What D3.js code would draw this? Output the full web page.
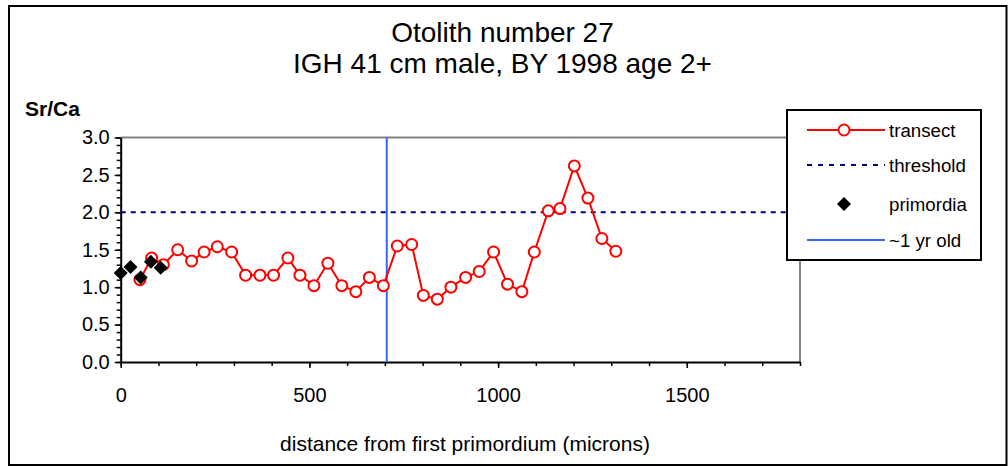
<!DOCTYPE html>
<html>
<head>
<meta charset="utf-8">
<script src="https://cdn.jsdelivr.net/npm/d3@7"></script>
<style>
  body { margin: 0; background: #fff; }
  svg { display: block; font-family: "Liberation Sans", Arial, sans-serif; }
</style>
</head>
<body>
<svg id="chart" width="1008" height="466"></svg>
<script>
// transect points (distance in microns, Sr/Ca)
const transectX = [51, 82, 113, 151, 188, 221, 256, 294, 331, 369, 405, 443, 475, 512, 549, 586, 623, 659,
  696, 733, 771, 802, 839, 875, 914, 950, 988, 1025, 1063, 1096, 1133, 1164, 1202, 1238, 1275, 1312];
const transectY = [1.10, 1.39, 1.30, 1.50, 1.35, 1.47, 1.54, 1.47, 1.16, 1.16, 1.16, 1.39, 1.16, 1.02, 1.32, 1.02, 0.94, 1.13,
  1.02, 1.55, 1.57, 0.89, 0.84, 1.00, 1.13, 1.21, 1.47, 1.04, 0.94, 1.47, 2.02, 2.05, 2.62, 2.19, 1.65, 1.48];

// primordia points
const primX = [0, 26, 53, 80, 106];
const primY = [1.19, 1.27, 1.13, 1.34, 1.26];

const threshold = 2.0;
const yearLineX = 705;

const titleLines = ["Otolith number 27", "IGH 41 cm male, BY 1998 age 2+"];
const xLabel = "distance from first primordium (microns)";
const yLabel = "Sr/Ca";
const xTicks = [0, 500, 1000, 1500];
const yTicks = [0, 0.5, 1.0, 1.5, 2.0, 2.5, 3.0];
const legendLabels = ["transect", "threshold", "primordia", "~1 yr old"];

const RED = "#ff0000", NAVY = "#000080", BLUE = "#3366ff";

const svg = d3.select("#chart");

// outer chart border
svg.append("rect")
  .attr("x", 9).attr("y", 6)
  .attr("width", 997.5).attr("height", 459)
  .attr("fill", "#fff")
  .attr("stroke", "#000").attr("stroke-width", 2);

const plotLeft = 120.7, plotRight = 800, plotTop = 137.5, plotBottom = 362;

const x = d3.scaleLinear().domain([0, 1800]).range([plotLeft, plotRight]);
const y = d3.scaleLinear().domain([0, 3]).range([plotBottom, plotTop]);

// titles
svg.selectAll(".title")
  .data(titleLines)
  .enter().append("text")
  .attr("x", 502.5)
  .attr("y", (d, i) => 42.3 + i * 31)
  .attr("text-anchor", "middle")
  .attr("font-size", 28)
  .text(d => d);

// plot frame (top and right in grey)
svg.append("path")
  .attr("d", `M${plotLeft},${plotTop}H${plotRight}V${plotBottom}`)
  .attr("fill", "none")
  .attr("stroke", "#808080").attr("stroke-width", 2);

// minor ticks
const yMinor = svg.append("g")
  .attr("transform", `translate(${plotLeft},0)`)
  .call(d3.axisLeft(y).tickValues(d3.range(0, 31).map(d => d / 10)).tickSize(4).tickFormat(""));
const xMinor = svg.append("g")
  .attr("transform", `translate(0,${plotBottom})`)
  .call(d3.axisBottom(x).tickValues(d3.range(0, 19).map(d => d * 100)).tickSize(4).tickFormat(""));
[yMinor, xMinor].forEach(g => {
  g.select(".domain").remove();
  g.selectAll("line").attr("stroke", "#000").attr("stroke-width", 1.5);
});

// major axes
const yAxis = svg.append("g")
  .attr("transform", `translate(${plotLeft},0)`)
  .call(d3.axisLeft(y).tickValues(yTicks).tickSize(6).tickSizeOuter(0).tickPadding(10)
    .tickFormat(d3.format(".1f")));
const xAxis = svg.append("g")
  .attr("transform", `translate(0,${plotBottom})`)
  .call(d3.axisBottom(x).tickValues(xTicks).tickSize(6).tickSizeOuter(0).tickPadding(20)
    .tickFormat(d3.format("d")));
[yAxis, xAxis].forEach(g => {
  g.attr("font-family", null).attr("font-size", 20);
  g.select(".domain").attr("stroke", "#000").attr("stroke-width", 2);
  g.selectAll("line").attr("stroke", "#000").attr("stroke-width", 1.5);
  g.selectAll("text").attr("fill", "#000");
});
yAxis.selectAll("text").attr("x", -11);

// axis titles
svg.append("text")
  .attr("x", 25).attr("y", 116)
  .attr("font-size", 21).attr("font-weight", "bold")
  .text(yLabel);
svg.append("text")
  .attr("x", 465).attr("y", 451)
  .attr("text-anchor", "middle")
  .attr("font-size", 21)
  .text(xLabel);

// threshold line
svg.append("line")
  .attr("x1", x(0)).attr("x2", x(1800))
  .attr("y1", y(threshold)).attr("y2", y(threshold))
  .attr("stroke", NAVY).attr("stroke-width", 2)
  .attr("stroke-dasharray", "5,5");

// ~1 yr old line
svg.append("line")
  .attr("x1", x(yearLineX)).attr("x2", x(yearLineX))
  .attr("y1", y(0)).attr("y2", y(3))
  .attr("stroke", BLUE).attr("stroke-width", 2);

// transect
const transect = transectX.map((d, i) => ({x: d, y: transectY[i]}));
svg.append("path")
  .datum(transect)
  .attr("fill", "none")
  .attr("stroke", RED).attr("stroke-width", 2)
  .attr("d", d3.line().x(d => x(d.x)).y(d => y(d.y)));
svg.selectAll(".tpt")
  .data(transect)
  .enter().append("circle")
  .attr("cx", d => x(d.x)).attr("cy", d => y(d.y))
  .attr("r", 5.5)
  .attr("fill", "#fff")
  .attr("stroke", RED).attr("stroke-width", 2);

// primordia
const diamond = d3.symbol().type(d3.symbolSquare).size(98);
const prim = primX.map((d, i) => ({x: d, y: primY[i]}));
svg.selectAll(".ppt")
  .data(prim)
  .enter().append("path")
  .attr("d", diamond)
  .attr("transform", d => `translate(${x(d.x)},${y(d.y)}) rotate(45)`)
  .attr("fill", "#000");

// legend
const legend = svg.append("g").attr("transform", "translate(787,110)");
legend.append("rect")
  .attr("width", 194).attr("height", 150)
  .attr("fill", "#fff")
  .attr("stroke", "#000").attr("stroke-width", 2);

const rowY = [20, 55, 94, 130];
const items = legend.selectAll(".item")
  .data(legendLabels)
  .enter().append("g")
  .attr("transform", (d, i) => `translate(0,${rowY[i]})`);
items.append("text")
  .attr("x", 102).attr("y", 6.5)
  .attr("font-size", 18.7)
  .text(d => d);

const l0 = items.filter((d, i) => i === 0);
l0.append("line").attr("x1", 20).attr("x2", 98)
  .attr("stroke", RED).attr("stroke-width", 2);
l0.append("circle").attr("cx", 57).attr("r", 5.5)
  .attr("fill", "#fff").attr("stroke", RED).attr("stroke-width", 2);

items.filter((d, i) => i === 1).append("line")
  .attr("x1", 20).attr("x2", 98)
  .attr("stroke", NAVY).attr("stroke-width", 2).attr("stroke-dasharray", "5,6");

items.filter((d, i) => i === 2).append("path")
  .attr("d", diamond)
  .attr("transform", "translate(57,0) rotate(45)")
  .attr("fill", "#000");

items.filter((d, i) => i === 3).append("line")
  .attr("x1", 20).attr("x2", 98)
  .attr("stroke", BLUE).attr("stroke-width", 2);
</script>
</body>
</html>
